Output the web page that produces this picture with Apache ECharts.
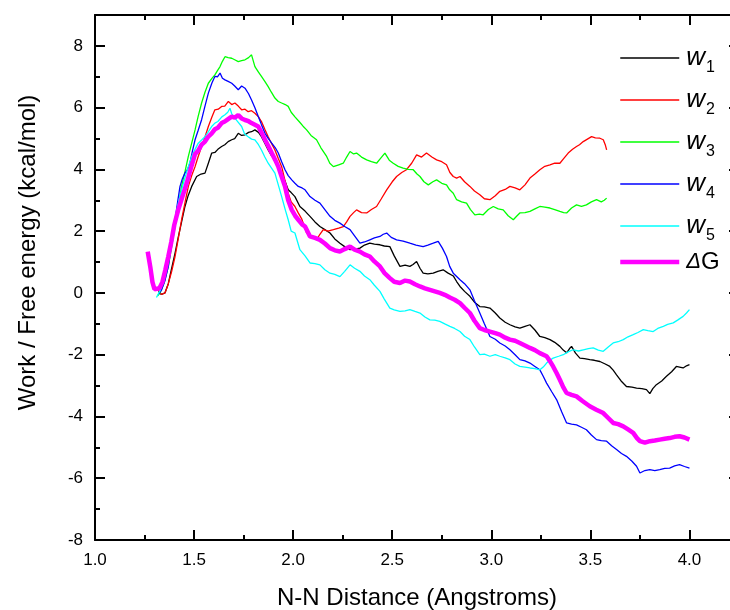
<!DOCTYPE html>
<html><head><meta charset="utf-8">
<script src="https://cdn.jsdelivr.net/npm/echarts@6/dist/echarts.min.js"></script>
<style>html,body{margin:0;padding:0;background:#fff}#c{width:730px;height:610px}</style>
</head><body><div id="c"></div><script>
const seriesNames = ['w1','w2','w3','w4','w5','ΔG'];
const seriesColors = ['#000000','#ff0000','#00ff00','#0000ff','#00ffff','#ff00ff'];
const xTicks = [1.0,1.5,2.0,2.5,3.0,3.5,4.0];
const yTicks = [-8,-6,-4,-2,0,2,4,6,8];

const w1 = [[1.32,0.05],[1.335,-0.05],[1.353,0.0],[1.37,0.3],[1.385,0.75],[1.404,1.29],[1.42,1.8],[1.437,2.3],[1.454,2.80],[1.47,3.15],[1.488,3.45],[1.513,3.77],[1.535,3.85],[1.555,3.88],[1.572,4.2],[1.589,4.53],[1.605,4.55],[1.62,4.65],[1.639,4.74],[1.655,4.8],[1.672,4.9],[1.69,4.96],[1.705,5.0],[1.723,5.17],[1.74,5.1],[1.757,5.12],[1.775,5.2],[1.79,5.22],[1.807,5.28],[1.825,5.2],[1.84,5.06],[1.857,4.85],[1.874,4.63],[1.89,4.45],[1.908,4.31],[1.925,4.1],[1.942,3.88],[1.96,3.6],[1.975,3.34],[1.99,3.25],[2.009,3.12],[2.034,2.80],[2.06,2.65],[2.085,2.48],[2.11,2.3],[2.135,2.15],[2.16,2.05],[2.186,1.94],[2.21,1.75],[2.236,1.61],[2.26,1.5],[2.287,1.40],[2.31,1.42],[2.337,1.45],[2.36,1.55],[2.387,1.61],[2.41,1.58],[2.438,1.56],[2.46,1.52],[2.488,1.50],[2.51,1.2],[2.539,0.86],[2.565,0.9],[2.589,0.86],[2.605,0.92],[2.623,1.02],[2.64,0.8],[2.656,0.64],[2.68,0.62],[2.707,0.64],[2.73,0.7],[2.757,0.75],[2.78,0.65],[2.808,0.55],[2.825,0.37],[2.842,0.21],[2.865,0.05],[2.892,-0.11],[2.915,-0.3],[2.942,-0.44],[2.965,-0.45],[2.993,-0.49],[3.02,-0.65],[3.043,-0.81],[3.07,-0.95],[3.094,-1.03],[3.12,-1.1],[3.144,-1.14],[3.17,-1.08],[3.195,-1.03],[3.22,-1.2],[3.245,-1.41],[3.27,-1.45],[3.296,-1.51],[3.32,-1.6],[3.346,-1.73],[3.363,-1.85],[3.38,-1.94],[3.395,-1.8],[3.405,-1.73],[3.425,-1.95],[3.447,-2.11],[3.47,-2.13],[3.497,-2.16],[3.52,-2.18],[3.548,-2.22],[3.575,-2.3],[3.598,-2.38],[3.615,-2.5],[3.632,-2.65],[3.655,-2.85],[3.682,-3.03],[3.71,-3.05],[3.733,-3.08],[3.76,-3.1],[3.783,-3.13],[3.80,-3.26],[3.815,-3.1],[3.833,-2.97],[3.86,-2.85],[3.884,-2.70],[3.91,-2.55],[3.934,-2.38],[3.95,-2.4],[3.968,-2.43],[3.985,-2.36],[4.0,-2.32]];

const w2 = [[1.32,0.1],[1.335,-0.05],[1.353,0.0],[1.37,0.3],[1.387,0.7],[1.404,1.18],[1.42,1.75],[1.437,2.37],[1.455,2.95],[1.471,3.45],[1.488,3.8],[1.505,4.09],[1.52,4.4],[1.538,4.74],[1.555,5.05],[1.572,5.39],[1.59,5.7],[1.605,5.93],[1.622,5.95],[1.639,6.04],[1.655,6.05],[1.673,6.20],[1.69,6.1],[1.706,6.15],[1.723,6.05],[1.74,5.93],[1.757,5.95],[1.773,5.87],[1.79,5.9],[1.807,5.82],[1.825,5.7],[1.84,5.55],[1.857,5.3],[1.874,5.06],[1.89,4.85],[1.908,4.63],[1.925,4.35],[1.942,4.09],[1.96,3.6],[1.975,3.23],[1.99,2.95],[2.009,2.80],[2.025,2.6],[2.043,2.4],[2.068,1.94],[2.09,1.85],[2.118,1.72],[2.135,1.9],[2.152,2.05],[2.175,2.0],[2.203,2.05],[2.23,2.1],[2.253,2.15],[2.27,2.3],[2.287,2.48],[2.305,2.6],[2.32,2.69],[2.345,2.6],[2.371,2.59],[2.395,2.7],[2.421,2.80],[2.445,3.05],[2.472,3.34],[2.5,3.6],[2.522,3.77],[2.548,3.9],[2.572,3.99],[2.598,4.2],[2.623,4.47],[2.648,4.4],[2.673,4.53],[2.7,4.4],[2.724,4.31],[2.75,4.25],[2.774,4.15],[2.791,3.9],[2.808,3.77],[2.825,3.72],[2.842,3.77],[2.865,3.6],[2.892,3.45],[2.915,3.3],[2.942,3.18],[2.965,3.05],[2.993,3.02],[3.02,3.15],[3.043,3.29],[3.07,3.35],[3.094,3.45],[3.12,3.4],[3.144,3.34],[3.17,3.5],[3.195,3.72],[3.22,3.85],[3.245,3.99],[3.27,4.1],[3.296,4.15],[3.32,4.2],[3.346,4.20],[3.365,4.35],[3.388,4.53],[3.41,4.65],[3.43,4.74],[3.445,4.8],[3.464,4.90],[3.485,4.98],[3.506,5.06],[3.525,5.02],[3.548,5.01],[3.565,4.96],[3.575,4.8],[3.582,4.63]];

const w3 = [[1.315,-0.1],[1.328,0.0],[1.35,0.35],[1.37,0.86],[1.387,1.5],[1.404,2.15],[1.42,2.8],[1.437,3.45],[1.455,3.95],[1.471,4.42],[1.488,4.85],[1.505,5.28],[1.52,5.7],[1.538,6.15],[1.555,6.5],[1.572,6.79],[1.59,6.95],[1.605,7.06],[1.618,7.2],[1.631,7.33],[1.643,7.5],[1.656,7.65],[1.672,7.62],[1.69,7.60],[1.705,7.55],[1.723,7.49],[1.74,7.52],[1.757,7.55],[1.775,7.62],[1.79,7.71],[1.807,7.33],[1.825,7.15],[1.84,7.01],[1.857,6.85],[1.874,6.68],[1.89,6.5],[1.908,6.31],[1.925,6.2],[1.942,6.15],[1.96,6.1],[1.975,6.04],[1.99,5.85],[2.009,5.7],[2.03,5.55],[2.05,5.4],[2.068,5.28],[2.09,5.1],[2.118,4.96],[2.14,4.7],[2.169,4.42],[2.185,4.2],[2.203,4.09],[2.23,4.15],[2.253,4.20],[2.27,4.4],[2.287,4.58],[2.305,4.5],[2.32,4.53],[2.345,4.4],[2.371,4.31],[2.395,4.25],[2.421,4.20],[2.44,4.35],[2.463,4.53],[2.485,4.3],[2.505,4.20],[2.53,4.1],[2.555,4.04],[2.58,4.0],[2.606,3.99],[2.625,3.85],[2.64,3.77],[2.66,3.6],[2.682,3.50],[2.705,3.6],[2.724,3.66],[2.75,3.55],[2.774,3.50],[2.79,3.34],[2.808,3.23],[2.825,3.02],[2.85,2.95],[2.875,2.91],[2.895,2.7],[2.917,2.53],[2.94,2.55],[2.959,2.53],[2.985,2.7],[3.01,2.80],[3.035,2.72],[3.06,2.69],[3.085,2.5],[3.111,2.37],[3.13,2.5],[3.144,2.59],[3.17,2.6],[3.195,2.64],[3.22,2.72],[3.245,2.80],[3.27,2.78],[3.296,2.75],[3.32,2.7],[3.346,2.64],[3.365,2.6],[3.38,2.59],[3.405,2.75],[3.43,2.85],[3.455,2.8],[3.48,2.85],[3.505,2.95],[3.531,3.02],[3.555,2.95],[3.57,3.0],[3.582,3.07]];

const w4 = [[1.32,-0.05],[1.336,0.10],[1.353,0.4],[1.37,0.86],[1.387,1.6],[1.404,2.37],[1.417,2.95],[1.429,3.45],[1.441,3.7],[1.454,3.88],[1.467,4.0],[1.479,4.20],[1.492,4.6],[1.505,4.96],[1.52,5.25],[1.538,5.61],[1.555,6.05],[1.572,6.47],[1.59,6.8],[1.605,7.01],[1.618,7.0],[1.631,7.12],[1.643,6.95],[1.656,6.90],[1.672,6.85],[1.69,6.79],[1.705,6.7],[1.723,6.58],[1.74,6.7],[1.757,6.63],[1.775,6.45],[1.79,6.25],[1.807,6.0],[1.824,5.71],[1.84,5.45],[1.858,5.17],[1.875,5.0],[1.892,4.85],[1.91,4.7],[1.925,4.53],[1.942,4.25],[1.959,3.99],[1.975,3.8],[1.993,3.66],[2.009,3.55],[2.026,3.45],[2.045,3.4],[2.06,3.34],[2.085,3.12],[2.11,3.0],[2.135,2.91],[2.16,2.7],[2.186,2.48],[2.21,2.35],[2.236,2.26],[2.26,2.15],[2.287,2.05],[2.31,1.85],[2.337,1.61],[2.36,1.65],[2.387,1.72],[2.41,1.78],[2.438,1.83],[2.455,1.9],[2.472,1.94],[2.495,1.8],[2.522,1.72],[2.555,1.68],[2.589,1.61],[2.62,1.55],[2.656,1.50],[2.68,1.55],[2.707,1.61],[2.732,1.67],[2.753,1.45],[2.774,1.18],[2.79,0.86],[2.808,0.64],[2.842,0.43],[2.865,0.3],[2.892,0.10],[2.915,-0.25],[2.942,-0.65],[2.965,-1.0],[2.993,-1.41],[3.02,-1.5],[3.043,-1.62],[3.07,-1.72],[3.094,-1.84],[3.12,-2.0],[3.144,-2.16],[3.17,-2.2],[3.195,-2.27],[3.22,-2.38],[3.245,-2.49],[3.262,-2.7],[3.279,-2.92],[3.305,-3.2],[3.33,-3.46],[3.355,-3.85],[3.38,-4.21],[3.405,-4.25],[3.43,-4.27],[3.455,-4.35],[3.48,-4.43],[3.505,-4.6],[3.531,-4.75],[3.555,-4.78],[3.582,-4.80],[3.607,-4.95],[3.632,-5.07],[3.657,-5.2],[3.682,-5.29],[3.71,-5.45],[3.733,-5.61],[3.75,-5.83],[3.775,-5.75],[3.80,-5.72],[3.825,-5.75],[3.85,-5.72],[3.875,-5.68],[3.90,-5.67],[3.925,-5.6],[3.95,-5.56],[3.975,-5.62],[4.0,-5.67]];

const w5 = [[1.31,-0.15],[1.316,-0.11],[1.33,0.1],[1.35,0.6],[1.37,1.18],[1.385,1.8],[1.404,2.37],[1.42,2.9],[1.437,3.34],[1.455,3.75],[1.471,4.09],[1.49,4.45],[1.505,4.65],[1.521,4.85],[1.538,4.95],[1.555,5.06],[1.57,5.2],[1.59,5.4],[1.605,5.50],[1.62,5.55],[1.64,5.7],[1.656,5.77],[1.67,5.85],[1.681,5.98],[1.69,5.8],[1.706,5.66],[1.72,5.55],[1.74,5.39],[1.755,5.15],[1.773,5.06],[1.79,4.98],[1.807,4.96],[1.825,4.8],[1.84,4.63],[1.857,4.4],[1.874,4.20],[1.89,4.05],[1.908,3.88],[1.925,3.5],[1.942,3.12],[1.96,2.7],[1.975,2.37],[1.99,2.0],[2.009,1.94],[2.034,1.40],[2.06,1.2],[2.085,0.97],[2.11,0.95],[2.135,0.91],[2.16,0.75],[2.186,0.64],[2.21,0.6],[2.236,0.53],[2.26,0.7],[2.287,0.91],[2.31,0.8],[2.337,0.70],[2.36,0.55],[2.387,0.43],[2.41,0.25],[2.438,0.05],[2.46,-0.2],[2.488,-0.49],[2.51,-0.55],[2.539,-0.60],[2.565,-0.58],[2.589,-0.54],[2.615,-0.6],[2.64,-0.65],[2.665,-0.78],[2.69,-0.87],[2.715,-0.88],[2.74,-0.92],[2.765,-1.0],[2.791,-1.08],[2.815,-1.15],[2.842,-1.25],[2.865,-1.4],[2.892,-1.51],[2.915,-1.75],[2.942,-2.0],[2.965,-1.98],[2.993,-2.05],[3.02,-2.0],[3.043,-2.05],[3.07,-2.1],[3.094,-2.16],[3.12,-2.3],[3.144,-2.38],[3.17,-2.4],[3.195,-2.43],[3.22,-2.45],[3.245,-2.49],[3.262,-2.4],[3.279,-2.27],[3.295,-2.18],[3.312,-2.11],[3.34,-2.05],[3.363,-2.0],[3.39,-1.9],[3.413,-1.84],[3.44,-1.88],[3.464,-1.84],[3.49,-1.8],[3.514,-1.78],[3.54,-1.85],[3.565,-1.89],[3.59,-1.75],[3.615,-1.62],[3.64,-1.58],[3.666,-1.51],[3.69,-1.42],[3.716,-1.35],[3.74,-1.28],[3.767,-1.19],[3.79,-1.22],[3.817,-1.25],[3.84,-1.15],[3.868,-1.08],[3.89,-1.02],[3.918,-0.97],[3.94,-0.88],[3.968,-0.76],[3.985,-0.65],[4.0,-0.54]];

const dG = [[1.266,1.34],[1.28,0.8],[1.29,0.35],[1.30,0.12],[1.31,0.08],[1.325,0.15],[1.34,0.35],[1.355,0.75],[1.37,1.18],[1.385,1.65],[1.40,2.2],[1.42,2.69],[1.44,3.1],[1.463,3.56],[1.48,3.95],[1.505,4.5],[1.52,4.6],[1.538,4.80],[1.555,4.9],[1.57,5.05],[1.589,5.17],[1.605,5.3],[1.62,5.35],[1.639,5.50],[1.655,5.55],[1.67,5.62],[1.69,5.71],[1.705,5.68],[1.723,5.76],[1.74,5.65],[1.757,5.60],[1.775,5.56],[1.79,5.5],[1.80,5.52],[1.824,5.39],[1.84,5.2],[1.858,4.96],[1.875,4.75],[1.892,4.53],[1.91,4.3],[1.925,4.09],[1.94,3.8],[1.959,3.45],[1.975,3.0],[1.993,2.69],[2.01,2.5],[2.026,2.37],[2.045,2.22],[2.06,2.15],[2.085,1.83],[2.11,1.78],[2.135,1.72],[2.16,1.6],[2.186,1.45],[2.21,1.38],[2.236,1.34],[2.26,1.42],[2.287,1.50],[2.31,1.40],[2.337,1.34],[2.36,1.25],[2.387,1.18],[2.41,1.02],[2.438,0.86],[2.46,0.65],[2.488,0.48],[2.51,0.36],[2.539,0.32],[2.565,0.4],[2.589,0.37],[2.615,0.28],[2.64,0.21],[2.665,0.15],[2.69,0.10],[2.715,0.05],[2.74,0.0],[2.765,-0.06],[2.791,-0.15],[2.815,-0.22],[2.842,-0.33],[2.865,-0.48],[2.892,-0.65],[2.915,-0.9],[2.942,-1.14],[2.965,-1.2],[2.993,-1.25],[3.02,-1.3],[3.043,-1.35],[3.07,-1.45],[3.094,-1.51],[3.12,-1.55],[3.144,-1.62],[3.17,-1.7],[3.195,-1.78],[3.22,-1.85],[3.245,-1.95],[3.279,-2.05],[3.295,-2.2],[3.312,-2.38],[3.33,-2.6],[3.346,-2.81],[3.363,-3.05],[3.38,-3.24],[3.405,-3.3],[3.43,-3.35],[3.46,-3.5],[3.497,-3.67],[3.53,-3.78],[3.565,-3.89],[3.59,-4.05],[3.615,-4.21],[3.64,-4.25],[3.666,-4.32],[3.69,-4.42],[3.716,-4.53],[3.735,-4.7],[3.75,-4.80],[3.775,-4.85],[3.80,-4.80],[3.825,-4.78],[3.85,-4.75],[3.875,-4.72],[3.90,-4.70],[3.925,-4.66],[3.95,-4.64],[3.975,-4.68],[4.0,-4.75]];

const seriesData = [w1, w2, w3, w4, w5, dG];
const lineWidths = [1.3,1.3,1.3,1.3,1.3,4.5];

const FONT = 'Liberation Sans, Arial, sans-serif';
const X_MIN = 1, X_MAX = 4.25, Y_MIN = -8, Y_MAX = 9;

function xAx(pos, interval, len, showLine, showLabel, extra) {
  return Object.assign({
    type: 'value', position: pos, min: X_MIN, max: X_MAX, interval: interval,
    axisLine: { show: showLine, onZero: false, lineStyle: { color: '#000', width: 2 } },
    axisTick: { show: true, inside: true, length: len, lineStyle: { color: '#000', width: 2 } },
    axisLabel: { show: showLabel, showMaxLabel: false, margin: 12, color: '#000', fontSize: 17, fontFamily: FONT,
      formatter: v => xTicks.includes(+v.toFixed(2)) ? v.toFixed(1) : '' },
    splitLine: { show: false }
  }, extra || {});
}
function yAx(pos, interval, len, showLine, showLabel, extra) {
  return Object.assign({
    type: 'value', position: pos, min: Y_MIN, max: Y_MAX, interval: interval,
    axisLine: { show: showLine, onZero: false, lineStyle: { color: '#000', width: 2 } },
    axisTick: { show: true, inside: true, length: len, lineStyle: { color: '#000', width: 2 } },
    axisLabel: { show: showLabel, showMaxLabel: false, margin: 12, color: '#000', fontSize: 17, fontFamily: FONT,
      formatter: v => yTicks.includes(v) ? String(v) : '' },
    splitLine: { show: false }
  }, extra || {});
}

const chart = echarts.init(document.getElementById('c'), null, { renderer: 'canvas' });
chart.setOption({
  animation: false,
  backgroundColor: '#fff',
  grid: { left: 95, right: -9, top: 15, bottom: 70, containLabel: false, outerBoundsMode: 'none' },
  xAxis: [
    xAx('bottom', 0.5, 10, true, true, { name: 'N-N Distance (Angstroms)', nameLocation: 'middle', nameGap: 46,
      nameTextStyle: { fontSize: 24, fontFamily: FONT, color: '#000' } }),
    xAx('bottom', 0.25, 5, false, false),
    xAx('top', 0.5, 10, true, false),
    xAx('top', 0.25, 5, false, false)
  ],
  yAxis: [
    yAx('left', 2, 10, true, true, { name: 'Work / Free energy (kcal/mol)', nameLocation: 'middle', nameGap: 55,
      nameTextStyle: { fontSize: 24, fontFamily: FONT, color: '#000', padding: [0, 0, 0, 50] } }),
    yAx('left', 1, 5, false, false),
    yAx('right', 2, 10, true, false),
    yAx('right', 1, 5, false, false)
  ],
  legend: {
    orient: 'vertical', left: 618, top: 40, padding: 0,
    itemWidth: 59, itemHeight: 14, itemGap: 6,
    itemStyle: { opacity: 0, borderWidth: 0 },
    lineStyle: { width: 'inherit' },
    data: seriesNames,
    formatter: function (name) {
      if (name.charAt(0) === 'w') return '{w|w}{s|' + name.slice(1) + '}';
      return '{d|Δ}{g|G}';
    },
    textStyle: {
      fontFamily: FONT, color: '#000', padding: [0, 0, 0, 2],
      rich: {
        w: { fontSize: 26, fontStyle: 'italic', fontFamily: FONT, color: '#000', lineHeight: 30 },
        s: { fontSize: 16, fontFamily: FONT, color: '#000', padding: [20, 0, 0, 1], lineHeight: 30 },
        d: { fontSize: 22, fontStyle: 'italic', fontFamily: FONT, color: '#000', lineHeight: 30 },
        g: { fontSize: 24, fontFamily: FONT, color: '#000', lineHeight: 30 }
      }
    }
  },
  series: seriesNames.map((n, i) => ({
    name: n, type: 'line', xAxisIndex: 0, yAxisIndex: 0,
    data: seriesData[i], symbol: 'none', showSymbol: false, smooth: false,
    color: seriesColors[i],
    lineStyle: { color: seriesColors[i], width: lineWidths[i] },
    z: i === 5 ? 5 : 3
  }))
});
</script></body></html>
